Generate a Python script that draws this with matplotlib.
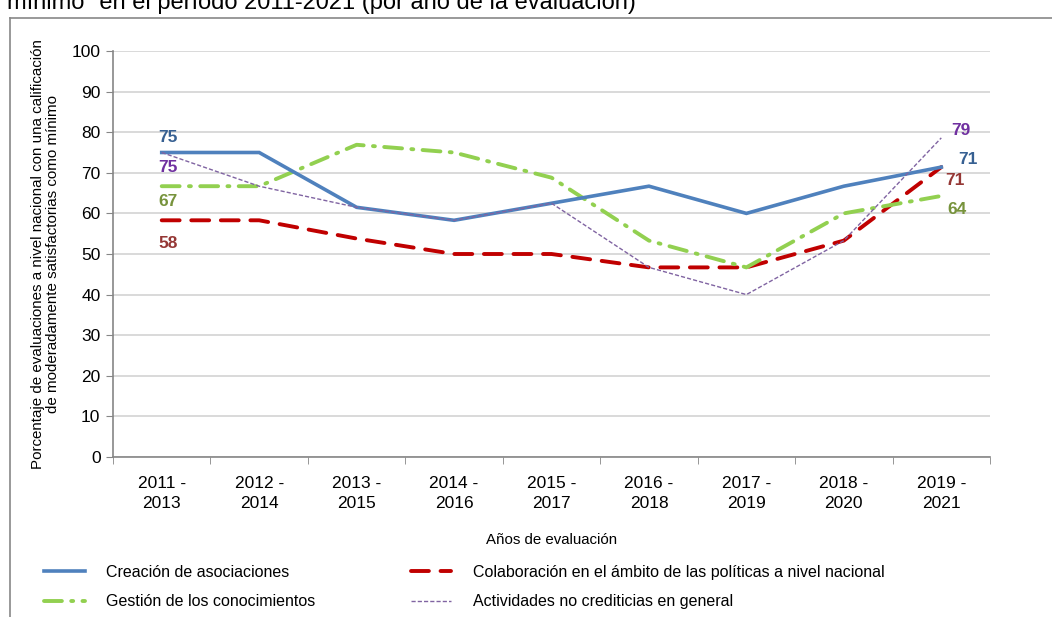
import matplotlib
matplotlib.use('Agg')
import matplotlib.pyplot as plt
from matplotlib.lines import Line2D

plt.rcParams['font.family'] = ['Liberation Sans', 'DejaVu Sans']

# Data
periods = ['2011 -\n2013', '2012 -\n2014', '2013 -\n2015', '2014 -\n2016', '2015 -\n2017',
           '2016 -\n2018', '2017 -\n2019', '2018 -\n2020', '2019 -\n2021']
asociaciones = [75, 75, 61.5, 58.3, 62.5, 66.7, 60, 66.7, 71.4]
colaboracion = [58.3, 58.3, 53.8, 50, 50, 46.7, 46.7, 53.3, 71.4]
conocimientos = [66.7, 66.7, 76.9, 75, 68.8, 53.3, 46.7, 60, 64.3]
no_crediticias = [75, 66.7, 61.5, 58.3, 62.5, 46.7, 40, 53.3, 78.6]

W, H = 1052, 617
fig = plt.figure(figsize=(W / 100, H / 100), dpi=100)
ax = fig.add_axes([113 / W, 1 - 457 / H, (990 - 113) / W, (457 - 51) / H])

x = list(range(len(periods)))

c_blue, c_red, c_green, c_purple = '#4F81BD', '#C00000', '#92D050', '#8064A2'

l_blue, = ax.plot(x, asociaciones, color=c_blue, lw=2.6, solid_joinstyle='miter', zorder=4)
l_red, = ax.plot(x, colaboracion, color=c_red, lw=2.8, dashes=(4.6, 3.0),
                 dash_capstyle='round', zorder=3)
l_green, = ax.plot(x, conocimientos, color=c_green, lw=2.8, dashes=(4.6, 2.4, 0.5, 2.4),
                   dash_capstyle='round', zorder=3)
l_purple, = ax.plot(x, no_crediticias, color=c_purple, lw=1.0, dashes=(3, 1.5), zorder=5)

ax.set_xlim(-0.5, len(periods) - 0.5)
ax.set_ylim(0, 100)
ax.set_yticks(range(0, 101, 10))
ax.set_xticks(x)
ax.set_xticklabels(periods, fontsize=12.5, linespacing=1.4)
ax.set_xticks([i - 0.5 for i in range(len(periods) + 1)], minor=True)
ax.tick_params(axis='x', which='major', length=0, pad=14)
ax.tick_params(axis='x', which='minor', length=5, color='#868686', direction='out')
ax.tick_params(axis='y', length=5, color='#868686', direction='out', labelsize=12.5, pad=4)

ax.grid(axis='y', color='#D9D9D9', lw=1.4)
ax.set_axisbelow(True)
for s in ['top', 'right']:
    ax.spines[s].set_visible(False)
for s in ['left', 'bottom']:
    ax.spines[s].set_color('#868686')
    ax.spines[s].set_linewidth(1.2)

ax.set_ylabel('Porcentaje de evaluaciones a nivel nacional con una calificación\n'
              'de moderadamente satisfactorias como mínimo', fontsize=10.9, labelpad=8,
              linespacing=1.1)
ax.set_xlabel('Años de evaluación', fontsize=10.8, labelpad=16)

# value labels at first and last points
lab_kw = dict(textcoords='offset pixels', ha='center', va='center', fontsize=12.5, fontweight='bold')
ax.annotate('75', (0, asociaciones[0]), xytext=(6, 15), color='#376092', **lab_kw)
ax.annotate('75', (0, no_crediticias[0]), xytext=(6, -15), color='#7030A0', **lab_kw)
ax.annotate('67', (0, conocimientos[0]), xytext=(6, -15), color='#77933C', **lab_kw)
ax.annotate('58', (0, colaboracion[0]), xytext=(6, -23), color='#953735', **lab_kw)
ax.annotate('79', (8, no_crediticias[-1]), xytext=(20, 7), color='#7030A0', **lab_kw)
ax.annotate('71', (8, asociaciones[-1]), xytext=(27, 8), color='#376092', **lab_kw)
ax.annotate('71', (8, colaboracion[-1]), xytext=(14, -13), color='#953735', **lab_kw)
ax.annotate('64', (8, conocimientos[-1]), xytext=(16, -14), color='#77933C', **lab_kw)

fig.legend([l_blue, l_green, l_red, l_purple],
           ['Creación de asociaciones', 'Gestión de los conocimientos',
            'Colaboración en el ámbito de las políticas a nivel nacional',
            'Actividades no crediticias en general'],
           loc='upper left', bbox_to_anchor=(36 / W, 1 - 557 / H), ncol=2, frameon=False,
           fontsize=11.5, borderpad=0, handlelength=2.55, handletextpad=1.35,
           columnspacing=5.95, labelspacing=0.9)

# frame of the original figure box (cut off)
fig.add_artist(Line2D([10 / W, 1], [1 - 18 / H, 1 - 18 / H], color='#888888', lw=1.2))
fig.add_artist(Line2D([10 / W, 10 / W], [0, 1 - 18 / H], color='#888888', lw=1.2))

# clipped caption at the very top
fig.text(7 / W, 1 - 9 / H, 'mínimo" en el período 2011-2021 (por año de la evaluación)',
         fontsize=17, va='baseline', ha='left')

fig.savefig('out.png', dpi=100)
